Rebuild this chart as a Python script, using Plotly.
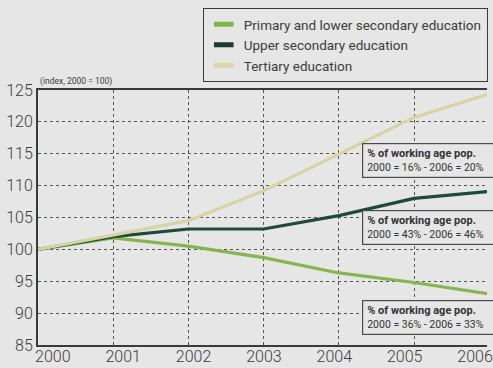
import plotly.graph_objects as go

years = [2000, 2001, 2002, 2003, 2004, 2005, 2006]
primary = [100, 101.8, 100.5, 98.7, 96.3, 94.8, 93.0]
upper = [100, 102.0, 103.2, 103.2, 105.3, 108.0, 109.1]
tertiary = [100, 102.2, 104.5, 109.2, 114.9, 120.7, 124.4]

series_names = ["Primary and lower secondary education", "Upper secondary education", "Tertiary education"]
series_values = [primary, upper, tertiary]
line_colors = ["#86b64c", "#1e4a3a", "#d5d4a4"]
swatch_colors = ["#7fb446", "#1b3b2f", "#ddd6a8"]

yticks = [85, 90, 95, 100, 105, 110, 115, 120, 125]
box_head = "% of working age pop."
box_lines = ["2000 = 16% - 2006 = 20%", "2000 = 43% - 2006 = 46%", "2000 = 36% - 2006 = 33%"]
box_y = [0.7216, 0.4608, 0.107]

BG = "#e6e6e6"
INK = "#3c3c3c"

fig = go.Figure()
for name, vals, col in zip(series_names, series_values, line_colors):
    fig.add_trace(go.Scatter(x=years, y=vals, mode="lines", line=dict(color=col, width=3.2),
                             showlegend=False, hoverinfo="skip"))
for name, col in zip(series_names, swatch_colors):
    fig.add_trace(go.Scatter(x=[None], y=[None], mode="markers", name=name,
                             marker=dict(symbol="line-ew", size=14, color=col,
                                         line=dict(color=col, width=5))))
# invisible trace carrying the tick-label axis
fig.add_trace(go.Scatter(x=years, y=[100] * len(years), xaxis="x2", mode="markers",
                         marker=dict(opacity=0), showlegend=False, hoverinfo="skip"))

annotations = [dict(text="(index, 2000 = 100)", xref="paper", yref="paper", x=0, y=1,
                    xanchor="left", yanchor="bottom", yshift=1, showarrow=False,
                    font=dict(family="Roboto", size=8.5, color=INK))]
for line, yy in zip(box_lines, box_y):
    t = ("<span style='font-size:11px'><b>" + box_head + "</b></span><br>" + line)
    annotations.append(dict(text=t, xref="paper", yref="paper", x=0.7209, y=yy,
                            xanchor="left", yanchor="middle", showarrow=False, align="left",
                            width=140, height=25, bgcolor=BG, bordercolor="#4a4a4a",
                            borderwidth=1.2, borderpad=4,
                            font=dict(family="Roboto", size=10.5, color="#333")))

fig.update_layout(
    width=493, height=368,
    margin=dict(l=38, r=0, t=90, b=23),
    paper_bgcolor=BG, plot_bgcolor=BG,
    xaxis=dict(range=[2000, 2005.97], tickvals=years, showticklabels=False,
               showgrid=True, gridcolor="#555", griddash="dot", gridwidth=1.4,
               showline=True, mirror=True, linecolor="#3a3a3a", linewidth=2,
               zeroline=False, ticks=""),
    xaxis2=dict(overlaying="x", anchor="y", side="bottom", range=[1999.79, 2006.17],
                tickvals=years, showgrid=False, showline=False, zeroline=False, ticks="",
                ticklabeloverflow="allow",
                tickfont=dict(family="Roboto", size=16, color=INK, weight=300)),
    yaxis=dict(range=[85, 125], tickvals=yticks, showgrid=True, gridcolor="#555",
               griddash="dot", gridwidth=1.4, showline=True, linecolor="#3a3a3a",
               linewidth=2, zeroline=False, ticks="",
               tickfont=dict(family="Roboto", size=16, color=INK, weight=300)),
    legend=dict(x=0.367, y=1.3216, xanchor="left", yanchor="top", bgcolor=BG,
                bordercolor="#3a3a3a", borderwidth=1,
                font=dict(family="Roboto", size=13.5, color=INK), itemwidth=30),
    annotations=annotations,
    showlegend=True,
)

fig.write_html("out.html")
